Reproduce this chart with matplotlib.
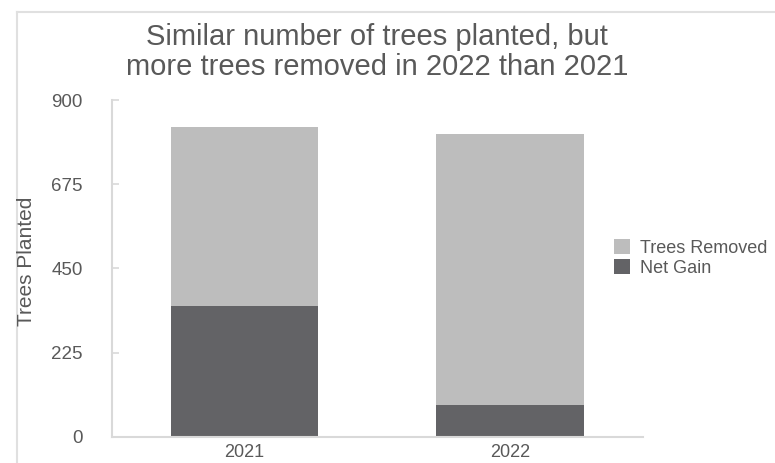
import matplotlib
matplotlib.use("Agg")
import matplotlib.pyplot as plt
from matplotlib.lines import Line2D
import numpy as np

plt.rcParams['font.family'] = ['Liberation Sans', 'DejaVu Sans']

years = ["2021", "2022"]
net_gain = [351, 85]
trees_removed = [478, 725]
y_ticks = [0, 225, 450, 675, 900]

text_color = "#595959"
light = "#bdbdbd"
dark = "#636366"
axis_gray = "#d9d9d9"

fig = plt.figure(figsize=(7.75, 4.63), dpi=100)
ax = fig.add_axes([0.1441, 0.0562, 0.6856, 0.7278])

x = np.arange(len(years))
w = 0.556
b1 = ax.bar(x, net_gain, width=w, color=dark, label="Net Gain")
b2 = ax.bar(x, trees_removed, width=w, bottom=net_gain, color=light, label="Trees Removed")

ax.set_xlim(-0.5, 1.5)
ax.set_ylim(0, 900)
ax.set_yticks(y_ticks)
ax.set_xticks(x)
ax.set_xticklabels(years)

for s in ["top", "right"]:
    ax.spines[s].set_visible(False)
for s in ["left", "bottom"]:
    ax.spines[s].set_color(axis_gray)
    ax.spines[s].set_linewidth(1.5)

ax.tick_params(axis="y", direction="in", length=5, width=1.2, color=axis_gray,
               labelsize=13.5, labelcolor=text_color, pad=21)
ax.tick_params(axis="x", length=0, labelsize=13, labelcolor=text_color, pad=5)

fig.text(27/775, 1-261/463, "Trees Planted", rotation=90, ha="center", va="center",
         fontsize=15, color=text_color)

fig.text(377/775, 1-52/463, "Similar number of trees planted, but\nmore trees removed in 2022 than 2021",
         ha="center", va="center", fontsize=21, color=text_color, linespacing=1.1)

leg = fig.legend(handles=[b2, b1], labels=["Trees Removed", "Net Gain"],
                 loc="center left", bbox_to_anchor=(601/775, 1-258/463),
                 frameon=False, fontsize=13, labelcolor=text_color,
                 handlelength=0.9, handleheight=0.9, handletextpad=0.55,
                 labelspacing=0.1, borderpad=0.2)

# outer frame lines (partial border of the original chart)
fig.add_artist(Line2D([17/775, 1], [1-12/463, 1-12/463], transform=fig.transFigure,
                      color="#e0e0e0", lw=1.5))
fig.add_artist(Line2D([17/775, 17/775], [0, 1-12/463], transform=fig.transFigure,
                      color="#e0e0e0", lw=1.5))

fig.savefig("out.png", dpi=100)
